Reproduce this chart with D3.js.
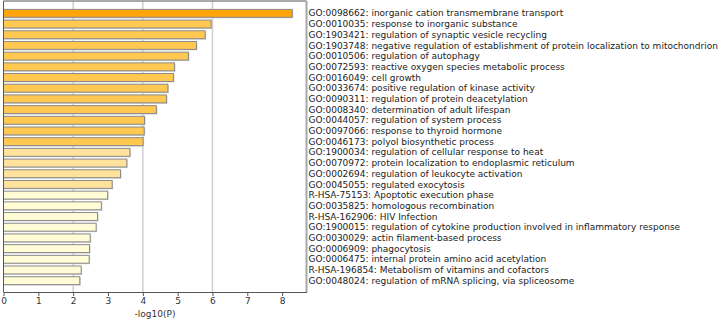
<!DOCTYPE html>
<html>
<head>
<meta charset="utf-8">
<script src="https://cdn.jsdelivr.net/npm/d3@7"></script>
<style>
  body { margin: 0; background: #fff; }
  text { font-family: "DejaVu Sans", sans-serif; }
</style>
</head>
<body>
<div id="chart"></div>
<script>
const terms = [
  "GO:0098662: inorganic cation transmembrane transport",
  "GO:0010035: response to inorganic substance",
  "GO:1903421: regulation of synaptic vesicle recycling",
  "GO:1903748: negative regulation of establishment of protein localization to mitochondrion",
  "GO:0010506: regulation of autophagy",
  "GO:0072593: reactive oxygen species metabolic process",
  "GO:0016049: cell growth",
  "GO:0033674: positive regulation of kinase activity",
  "GO:0090311: regulation of protein deacetylation",
  "GO:0008340: determination of adult lifespan",
  "GO:0044057: regulation of system process",
  "GO:0097066: response to thyroid hormone",
  "GO:0046173: polyol biosynthetic process",
  "GO:1900034: regulation of cellular response to heat",
  "GO:0070972: protein localization to endoplasmic reticulum",
  "GO:0002694: regulation of leukocyte activation",
  "GO:0045055: regulated exocytosis",
  "R-HSA-75153: Apoptotic execution phase",
  "GO:0035825: homologous recombination",
  "R-HSA-162906: HIV Infection",
  "GO:1900015: regulation of cytokine production involved in inflammatory response",
  "GO:0030029: actin filament-based process",
  "GO:0006909: phagocytosis",
  "GO:0006475: internal protein amino acid acetylation",
  "R-HSA-196854: Metabolism of vitamins and cofactors",
  "GO:0048024: regulation of mRNA splicing, via spliceosome"
];
const logP = [8.29, 5.96, 5.79, 5.54, 5.31, 4.91, 4.88, 4.72, 4.68, 4.39, 4.05, 4.04, 4.01,
  3.63, 3.54, 3.36, 3.12, 2.99, 2.81, 2.70, 2.66, 2.49, 2.47, 2.46, 2.23, 2.19];
const xTicks = [0, 1, 2, 3, 4, 5, 6, 7, 8];
const gridTicks = [2, 4, 6];

(function () {
  const W = 723, H = 321;
  const plot = { left: 3.5, right: 306.5, top: 1, bottom: 292 };

  const svg = d3.select("#chart").append("svg")
    .attr("width", W)
    .attr("height", H);

  const x = d3.scaleLinear().domain([0, 8.7]).range([plot.left, plot.right]);
  const y = d3.scaleBand().domain(terms).range([6.6, 287.4]).padding(0.26);

  // colour tiers by significance
  function barColor(v) {
    if (v >= 8) return "#ffa50c";
    if (v >= 4) return "#ffc851";
    if (v >= 3.05) return "#ffe29c";
    return "#fffcd6";
  }

  // grid
  svg.append("g").selectAll("line")
    .data(gridTicks)
    .enter().append("line")
    .attr("x1", d => x(d)).attr("x2", d => x(d))
    .attr("y1", plot.top).attr("y2", plot.bottom)
    .attr("stroke", "#cfcfcf")
    .attr("stroke-width", 1.5);

  // bar shadows
  svg.append("g").selectAll("rect")
    .data(terms)
    .enter().append("rect")
    .attr("x", x(0) + 1)
    .attr("y", d => y(d) + 1)
    .attr("width", (d, i) => x(logP[i]) - x(0))
    .attr("height", y.bandwidth())
    .attr("fill", "#d4d4d4");

  // bars
  svg.append("g").selectAll("rect")
    .data(terms)
    .enter().append("rect")
    .attr("x", x(0))
    .attr("y", d => y(d))
    .attr("width", (d, i) => x(logP[i]) - x(0))
    .attr("height", y.bandwidth())
    .attr("fill", (d, i) => barColor(logP[i]))
    .attr("stroke", "#8a8a8a")
    .attr("stroke-width", 1);

  // frame
  svg.append("line")
    .attr("x1", plot.left).attr("x2", plot.right).attr("y1", plot.top).attr("y2", plot.top)
    .attr("stroke", "#555").attr("stroke-width", 1);
  svg.append("line")
    .attr("x1", plot.right).attr("x2", plot.right).attr("y1", plot.top).attr("y2", plot.bottom)
    .attr("stroke", "#a8a8a8").attr("stroke-width", 2);
  svg.append("line")
    .attr("x1", plot.left).attr("x2", plot.left).attr("y1", plot.top).attr("y2", plot.bottom)
    .attr("stroke", "#555").attr("stroke-width", 1);

  // x axis
  const xAxis = svg.append("g")
    .attr("transform", `translate(0,${plot.bottom})`)
    .call(d3.axisBottom(x).tickValues(xTicks).tickFormat(d3.format("d")).tickSize(4).tickSizeOuter(0));
  xAxis.select(".domain").attr("stroke", "#555");
  xAxis.selectAll(".tick line").attr("stroke", "#555");
  xAxis.selectAll(".tick text")
    .attr("fill", "#333")
    .attr("font-size", 9)
    .attr("dy", "0.6em")
    .style("font-family", "'DejaVu Sans', sans-serif");

  svg.append("text")
    .attr("x", (plot.left + plot.right) / 2)
    .attr("y", 317)
    .attr("text-anchor", "middle")
    .attr("font-size", 9)
    .attr("fill", "#333")
    .text("-log10(P)");

  // term labels
  svg.append("g").selectAll("text")
    .data(terms)
    .enter().append("text")
    .attr("x", 308.5)
    .attr("y", d => y(d) + y.bandwidth() / 2)
    .attr("dy", "0.35em")
    .attr("font-size", 9)
    .attr("fill", "#222")
    .text(d => d);
})();
</script>
</body>
</html>
